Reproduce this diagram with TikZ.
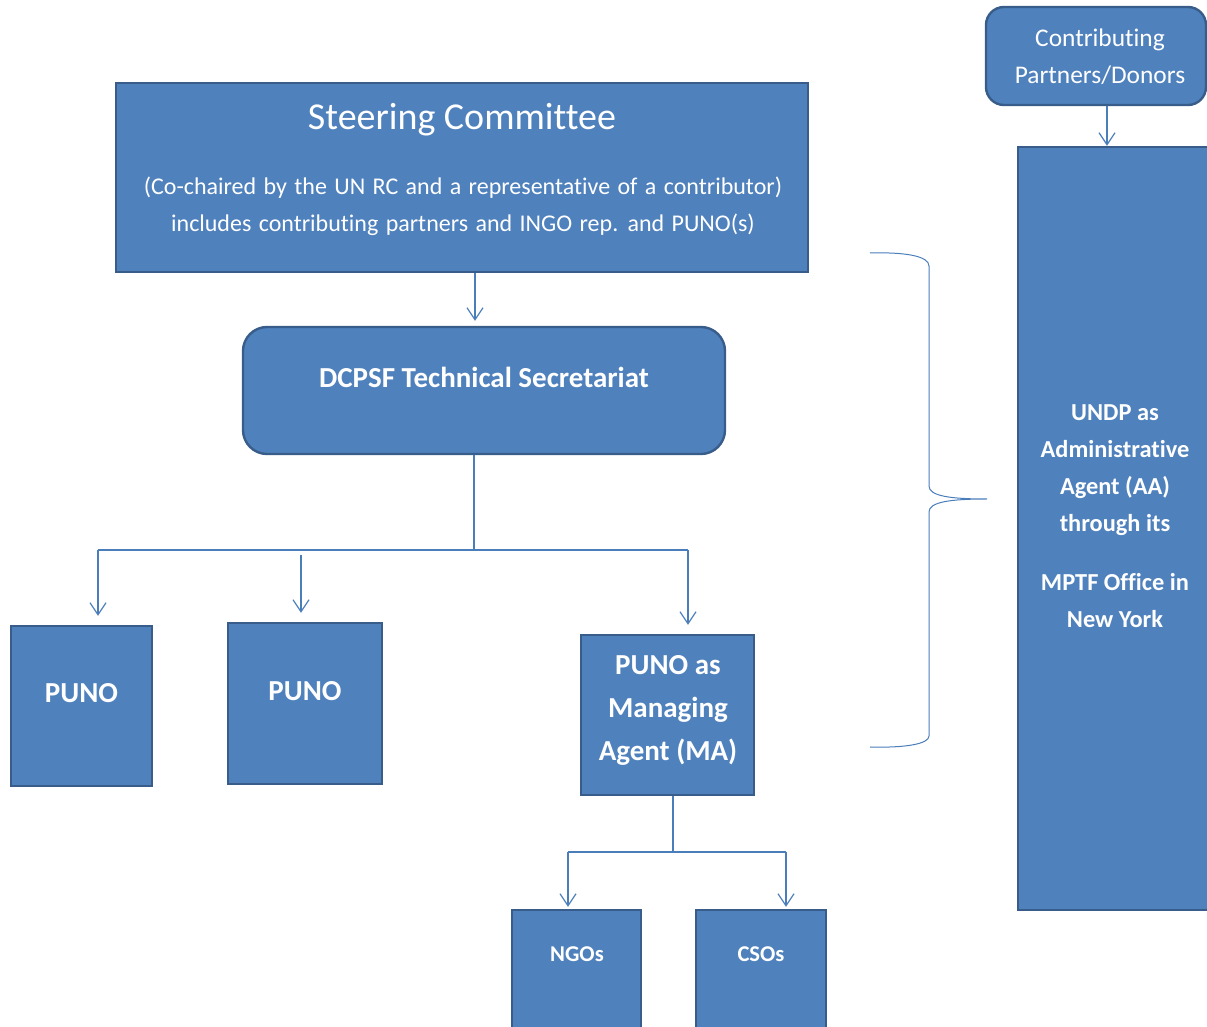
\documentclass[tikz,border=0pt]{standalone}
\usepackage{fontspec}
\setmainfont{Carlito}[Ligatures=NoCommon]
\usetikzlibrary{arrows.meta}
\definecolor{boxfill}{HTML}{4F81BD}
\definecolor{boxline}{HTML}{385D8A}
\definecolor{linkblue}{HTML}{4A7EBB}
\newcommand\fsz[2]{\fontsize{#1}{#2}\selectfont}
\newcommand\widespaces{\spaceskip=3.7pt\relax}
\tikzset{
  orgbox/.style = {rectangle, draw=boxline, fill=boxfill, line width=1.2pt,
    inner sep=0pt},% plain box
  orground/.style = {orgbox, rounded corners=12pt},% rounded box
  boxtext/.style = {align=center, inner sep=0pt, text=white},% white label
  link/.style = {draw=linkblue, line width=0.6pt},
  linkarr/.style = {link, -{Straight Barb[length=6pt,width=8pt]}}% open arrow
}

\begin{document}
\begin{tikzpicture}[x=0.5pt,y=-0.5pt]
  \useasboundingbox (0,0) rectangle (1207,1027);
  \clip (0,0) rectangle (1207,1027);

  % boxes
  \node [orgbox, minimum width=346pt, minimum height=94.5pt] (sc) at (462,177.5) {};
  \node [orground, minimum width=241pt, minimum height=63.5pt] (ts) at (484,390.5) {};
  \node [orgbox, minimum width=70.5pt, minimum height=80pt] (p1) at (81.5,706) {};
  \node [orgbox, minimum width=77pt, minimum height=80.5pt] (p2) at (305,703.5) {};
  \node [orgbox, minimum width=86.5pt, minimum height=80pt] (ma) at (667.5,715) {};
  \node [orgbox, minimum width=64.5pt, minimum height=65pt] (ngo) at (576.5,975) {};
  \node [orgbox, minimum width=65pt, minimum height=65pt] (cso) at (761,975) {};
  \node [orgbox, rounded corners=9pt, minimum width=110pt, minimum height=49pt] (cp) at (1096,56) {};
  \node [orgbox, minimum width=97pt, minimum height=381.5pt] (aa) at (1115,528.5) {};

  % texts
  \node [boxtext, font=\fsz{19}{23}] (sc-t) at (462,120) {Steering Committee};
  \node [boxtext, font=\fsz{12}{18.5}\widespaces] (sc-s) at (463,206.5)
    {(Co-chaired by the UN RC and a representative of a contributor)\\
     includes contributing partners and INGO rep. and PUNO(s)};
  \node [boxtext, font=\fsz{14.5}{18}\bfseries] (ts-t) at (484,377) {DCPSF Technical Secretariat};
  \node [boxtext, font=\fsz{14.5}{18}\bfseries] (p1-t) at (81.5,693) {PUNO};
  \node [boxtext, font=\fsz{14.5}{18}\bfseries] (p2-t) at (305,691) {PUNO};
  \node [boxtext, font=\fsz{14.5}{21.5}\bfseries] (ma-t) at (668,710) {PUNO as\\ Managing\\ Agent (MA)};
  \node [boxtext, font=\fsz{11.3}{14}\bfseries] (ngo-t) at (577,954) {NGOs};
  \node [boxtext, font=\fsz{11.3}{14}\bfseries] (cso-t) at (761,954) {CSOs};
  \node [boxtext, font=\fsz{12.7}{18.5}] (cp-t) at (1100,56.5) {Contributing\\ Partners/Donors};
  \node [boxtext, font=\fsz{12.2}{18.5}\bfseries] (aa-t) at (1115,516)
    {UNDP as\\ Administrative\\ Agent (AA)\\ through its\\[11pt] MPTF Office in\\ New York};

  % connectors
  \coordinate (hub) at (474,550);
  \coordinate (bl) at (98,550);
  \coordinate (br) at (688,550);
  \coordinate (b2) at (301,555);
  \coordinate (mhub) at (673,852);
  \coordinate (ml) at (568,852);
  \coordinate (mr) at (786,852);

  \draw [linkarr, shorten >=2.5pt] ([xshift=6.5pt]sc.south) -- ([xshift=-4.5pt]ts.north);
  \draw [linkarr] ([xshift=5.5pt]cp.south) -- ([xshift=-4pt]aa.north);
  \draw [link] (ts.south -| hub) -- (hub);
  \draw [link] (bl) -- (br);
  \draw [link] (ma.south -| mhub) -- (mhub);
  \draw [link] (ml) -- (mr);
  \foreach \from/\to in {bl/p1,b2/p2,br/ma}
    \draw [linkarr, shorten >=4.5pt] (\from) -- (\from |- \to.north);
  \foreach \from/\to in {ml/ngo,mr/cso}
    \draw [linkarr, shorten >=1pt] (\from) -- (\from |- \to.north);

  % brace
  \draw [link, line width=0.5pt] (870,253) .. controls (905,252) and (929,256) .. (929,266)
    -- (929,486) .. controls (929,496) and (950,499) .. (987,499)
    .. controls (950,499) and (929,502) .. (929,512)
    -- (929,736) .. controls (929,744) and (905,748) .. (870,747);
\end{tikzpicture}
\end{document}
